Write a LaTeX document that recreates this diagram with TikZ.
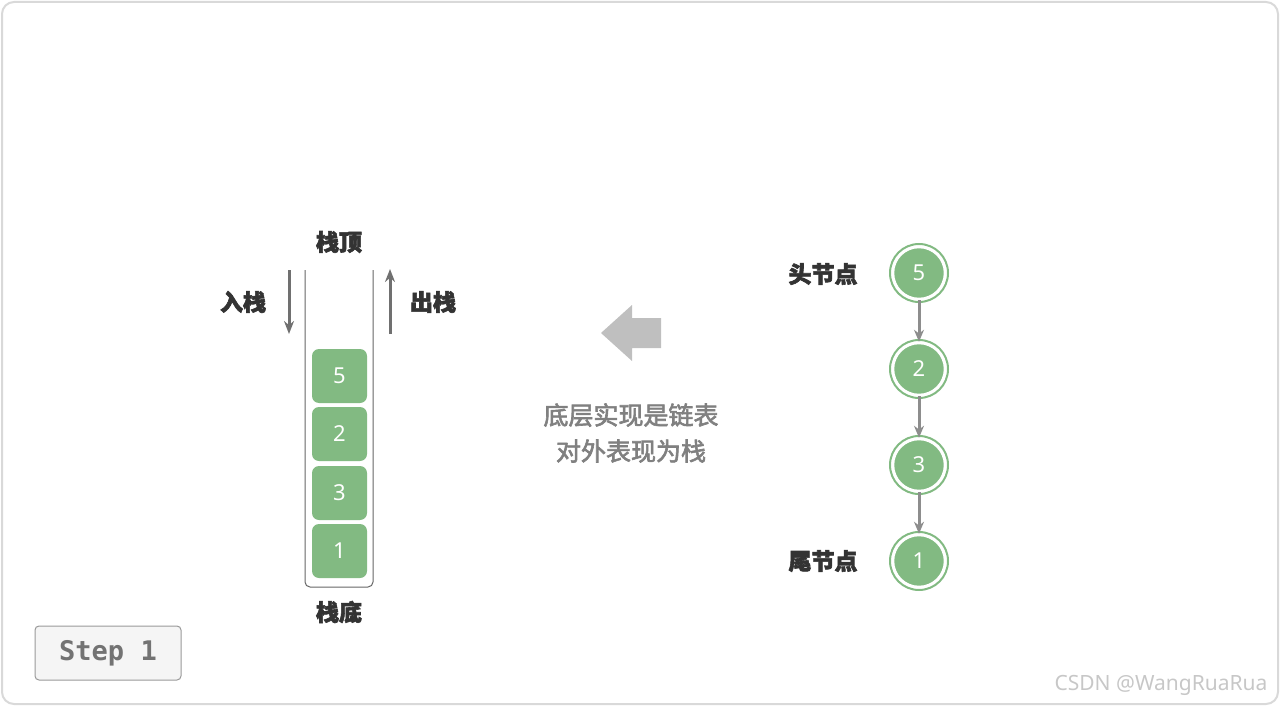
\documentclass[tikz,border=0pt]{standalone}
\usetikzlibrary{arrows.meta}
\usepackage{fontspec}
\setmainfont{Noto Sans}
\newfontfamily\cjk{Noto Sans CJK SC}[FakeBold=2.5]
\newfontfamily\mono{DejaVu Sans Mono}
\definecolor{gfill}{HTML}{82BA82}
\definecolor{dtext}{HTML}{333333}
\definecolor{arr}{HTML}{707070}
\begin{document}
\begin{tikzpicture}[x=1pt,y=-1pt,
  lbl/.style={font=\cjk\bfseries\fontsize{23}{27}\selectfont,text=dtext},
  sbox/.style={draw=none,fill=gfill,rounded corners=7pt,minimum width=55pt,minimum height=54pt,text=white,font=\fontsize{22}{26}\selectfont},
  lnode/.style={circle,fill=gfill,draw=white,line width=2.5pt,minimum size=52pt,text=white,font=\fontsize{22}{26}\selectfont},
  ring/.style={circle,draw=gfill,line width=2pt,minimum size=58pt},
  parr/.style={-{Stealth[length=13pt,width=10pt]},arr,line width=3pt},
  larr/.style={-{Stealth[length=12pt,width=10pt]},arr!80,line width=3pt}]
\useasboundingbox (0,0) rectangle (1280,706);
\draw[black!15,line width=2pt,rounded corners=12pt] (2,2) rectangle (1278,704);
% stack container
\draw[black!60,line width=1pt,rounded corners=5pt] (305,270) -- (305,587) -- (373,587) -- (373,270);
\node[sbox] (s5) at (339.5,376) {5};
\node[sbox] (s2) at (339.5,434) {2};
\node[sbox] (s3) at (339.5,493) {3};
\node[sbox] (s1) at (339.5,551) {1};
\node[lbl] (top) at (339,242) {栈顶};
\node[lbl] (bot) at (339,612) {栈底};
\node[lbl] (push) at (243,302) {入栈};
\node[lbl] (pop) at (433,302) {出栈};
\coordinate (pa) at (289,270); \coordinate (pb) at (289,334);
\coordinate (qa) at (390,334); \coordinate (qb) at (390,269);
\draw[parr] (pa) -- (pb);
\draw[parr] (qa) -- (qb);
% big arrow
\fill[black!25] (601,333) -- (632,305) -- (632,318) -- (661,318) -- (661,348) -- (632,348) -- (632,361) -- cycle;
\node[font=\cjk\fontsize{25}{30}\selectfont,text=black!50,align=center] (desc) at (631,433) {底层实现是链表\\[6pt]对外表现为栈};
% linked list
\foreach \n/\v/\y in {a/5/273,b/2/369,c/3/465,d/1/561}{
  \node[ring] at (919,\y) {};
  \node[lnode] (\n) at (919,\y) {\v};
}
\draw[larr] (a) -- (b);
\draw[larr] (b) -- (c);
\draw[larr] (c) -- (d);
\node[lbl] (head) at (823,274) {头节点};
\node[lbl] (tail) at (823,561) {尾节点};
% step
\node[draw=black!40,line width=1pt,fill=black!4,rounded corners=4pt,minimum width=146pt,minimum height=54pt,font=\mono\bfseries\fontsize{27}{30}\selectfont,text=black!55] (step) at (108,653) {Step 1};
\node[font=\fontsize{21}{24}\selectfont,text=black!22] (wm) at (1161,685) {CSDN @WangRuaRua};
\end{tikzpicture}
\end{document}
